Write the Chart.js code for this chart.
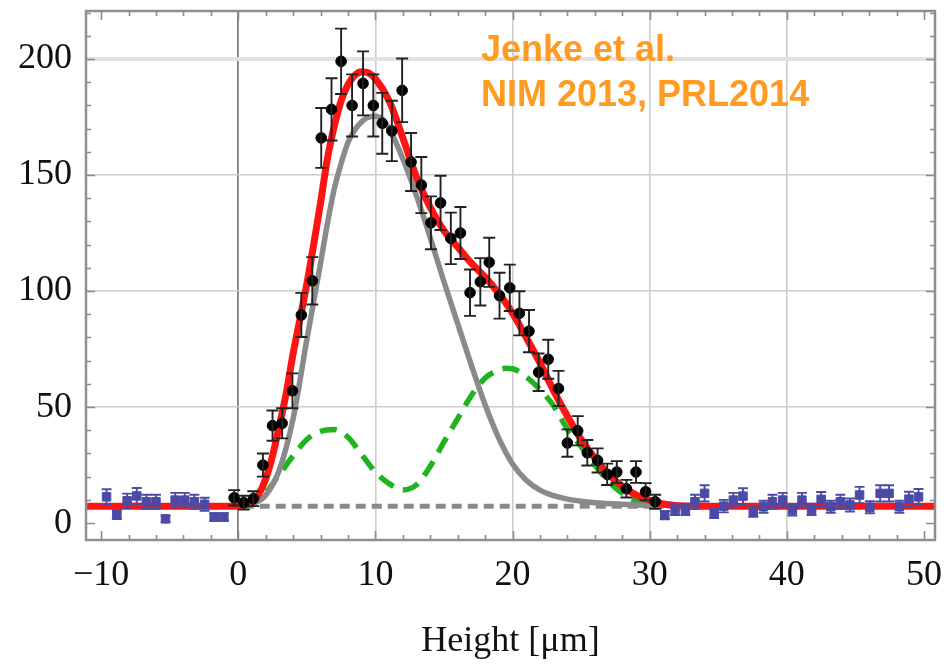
<!DOCTYPE html>
<html><head><meta charset="utf-8">
<script src="https://cdn.jsdelivr.net/npm/chart.js@4.4.1/dist/chart.umd.min.js"></script>
<style>html,body{margin:0;padding:0;background:#fff;}#wrap{width:952px;height:670px;}</style>
</head><body><div id="wrap"><canvas id="c" width="952" height="670"></canvas></div>
<script>
// ---- tick labels ----
const xTicks = [-10, 0, 10, 20, 30, 40, 50];
const yTicks = [0, 50, 100, 150, 200];
const xMinorStep = 2, yMinorStep = 10;

// ---- measured data (black) ----
const measX = [-0.3,0.4,1.1,1.8,2.5,3.2,3.95,4.6,5.4,6.05,6.8,7.5,8.3,9.1,9.85,10.5,11.2,11.95,12.6,13.35,14.05,14.75,15.5,16.2,16.9,17.65,18.3,19.05,19.8,20.5,21.2,21.9,22.6,23.35,24.0,24.75,25.45,26.2,26.9,27.6,28.3,29.0,29.7,30.4];
const measY = [10.9,8.8,10.5,25,42,43,57,89.7,104.4,166,178.3,199,180,189.5,180,172.3,169,186.5,155.6,145.7,129.4,138,122.7,125,99.3,104,112.4,98,101.4,90.4,82.7,65,70.6,58,34.5,39.8,30.3,27,21,22,14.8,22,13.5,9.2];
const measErr = [3.3,3,3.2,5,6.5,6.5,7.5,9.5,10.2,12.9,13.4,14.1,13.4,13.8,13.4,13.1,13,13.7,12.5,12.1,11.4,11.7,11.1,11.2,10,10.2,10.6,9.9,10,9.5,9.1,8.1,8.4,7.6,5.9,6.3,5.5,5.2,4.6,4.7,3.8,4.7,3.7,3];

// ---- background data (blue) ----
const bgX = [-9.6,-8.85,-8.1,-7.4,-6.7,-6.0,-5.3,-4.6,-3.9,-3.2,-2.45,-1.75,-1.05,
  31.1,31.85,32.6,33.3,34.0,34.7,35.4,36.1,36.8,37.55,38.3,38.95,39.7,40.4,41.1,41.8,42.5,43.2,43.9,44.6,45.3,46.05,46.8,47.45,48.2,48.9,49.6];
const bgY = [11.3,3.6,9.6,11.7,9.2,9.2,1.8,9.9,9.9,9.2,8.1,2.6,2.6,
  3.4,5.9,5.9,9.2,12.8,4.2,7.3,9.9,11.6,4.9,7.0,9.2,9.9,5.6,9.9,5.9,10.2,7.0,9.2,7.8,12.1,6.8,12.8,12.8,7.0,10.3,11.3];
const bgErr = [3.3,1.9,3.1,3.4,3,3,1.4,3.1,3.1,3,2.8,1.6,1.6,
  1.8,2.4,2.4,3,3.5,2,2.7,3.1,3.4,2.2,2.6,3,3.1,2.4,3.1,2.4,3.2,2.6,3,2.8,3.5,2.6,3.5,3.5,2.6,3.2,3.4];

// ---- total fit (red) ----
const redX = [-11.1,-1,0,0.5,1,1.5,2,2.5,3,3.5,4,4.5,5,5.5,6,6.5,7,7.5,8,8.5,9,9.5,10,11,12,13,14,15,16,17,18,19,20,21,22,23,24,25,26,27,28,29,30,31,32,33,50.8];
const redY = [7.3,7.3,7.4,7.8,9,12.5,19,29,42,56,73,88,103,120,138,157,171,182,189,193,194.5,194,191.5,182,166,149,136,126,119,112,106,99,90.5,80,69,57,46,36,28,21,15.8,12.2,9.8,8.2,7.5,7.3,7.3];

// ---- main component (grey) ----
const greyX = [0,1,2,3,4,5,6,6.5,7,7.5,8,8.5,9,9.5,10,10.5,11,12,13,14,15,16,17,18,19,20,21,22,23,24,25,26,28,30,31];
const greyY = [7.3,8.2,12,23,45,79,112,129,144,155,164,169.5,173,175,175.3,174,170,157,141,123,104,86,68,51,36.5,25.5,18.5,14.2,11.8,10.3,9.4,8.8,8.1,7.6,7.4];

// ---- second component (green dashed) ----
const greenX = [0.5,1,2,3,4,5,6,7,8,9,10,11,12,13,14,15,16,17,18,19,19.5,20,21,22,23,24,25,26,27,28,29,30,31];
const greenY = [7.3,8,13,21,29,36,39.5,40.3,37,29.5,22,17,14.3,16.5,24.5,35,45,55,62.5,66,66.7,66.5,63,57.5,50.5,40.5,33,25,18,12.8,9.5,7.8,7.3];

// ---- baseline (grey dotted) ----
const baseX = [0.4, 31];
const baseY = [7.3, 7.3];

const pts = (xs, ys) => xs.map((x, i) => ({x, y: ys[i]}));

const errorBars = {
  id: 'errorBars',
  afterDatasetsDraw(chart) {
    const {ctx, scales: {x, y}} = chart;
    const draw = (xs, ys, es, color, cap) => {
      ctx.save();
      ctx.strokeStyle = color; ctx.lineWidth = 1.9;
      xs.forEach((v, i) => {
        const px = x.getPixelForValue(v);
        const t = y.getPixelForValue(ys[i] + es[i]);
        const b = y.getPixelForValue(ys[i] - es[i]);
        ctx.beginPath();
        ctx.moveTo(px, t); ctx.lineTo(px, b);
        ctx.moveTo(px - cap, t); ctx.lineTo(px + cap, t);
        ctx.moveTo(px - cap, b); ctx.lineTo(px + cap, b);
        ctx.stroke();
      });
      ctx.restore();
    };
    draw(bgX, bgY, bgErr, '#4b4ba6', 5);
    draw(measX, measY, measErr, '#222', 6);
  }
};

const frame = {
  id: 'frame',
  afterDraw(chart) {
    const {ctx, chartArea: a, scales: {x, y}} = chart;
    ctx.save();
    ctx.strokeStyle = '#8c8c8c';
    ctx.lineWidth = 1.6;
    ctx.beginPath();
    for (let v = xTicks[0]; v <= xTicks[xTicks.length - 1] + 1e-9; v += xMinorStep) {
      const px = Math.round(x.getPixelForValue(v)) + 0.5;
      const major = xTicks.includes(Math.round(v));
      const L = major ? 9 : 5;
      ctx.moveTo(px, a.bottom); ctx.lineTo(px, a.bottom - L);
      ctx.moveTo(px, a.top); ctx.lineTo(px, a.top + L);
    }
    for (let v = yTicks[0]; v <= 220 + 1e-9; v += yMinorStep) {
      const py = Math.round(y.getPixelForValue(v)) + 0.5;
      const major = yTicks.includes(Math.round(v));
      const L = major ? 9 : 5;
      ctx.moveTo(a.left, py); ctx.lineTo(a.left + L, py);
      ctx.moveTo(a.right, py); ctx.lineTo(a.right - L, py);
    }
    ctx.stroke();
    ctx.lineWidth = 2.5;
    ctx.strokeStyle = '#8f8f8f';
    ctx.strokeRect(a.left, a.top, a.right - a.left, a.bottom - a.top);
    // annotation
    ctx.fillStyle = '#ff9b21';
    ctx.font = 'bold 36px "Liberation Sans", Arial, sans-serif';
    ctx.textBaseline = 'alphabetic';
    ctx.textAlign = 'left';
    ctx.fillText('Jenke et al.', 481, 61);
    ctx.fillText('NIM 2013, PRL2014', 481, 106);
    ctx.restore();
  }
};

const serif = {family: '"Liberation Serif", "Times New Roman", serif', size: 36};

new Chart(document.getElementById('c'), {
  type: 'scatter',
  data: {
    datasets: [
      {label: 'measured', data: pts(measX, measY), backgroundColor: '#000', borderColor: '#000', pointRadius: 5.3, pointStyle: 'circle', showLine: false},
      {label: 'background', data: pts(bgX, bgY), backgroundColor: '#4b4ba6', borderColor: '#4b4ba6', pointRadius: 6, pointStyle: 'rect', showLine: false},
      {label: 'fit', data: pts(redX, redY), showLine: true, borderColor: '#ff1414', borderWidth: 7, pointRadius: 0, cubicInterpolationMode: 'monotone', fill: false},
      {label: 'main', data: pts(greyX, greyY), showLine: true, borderColor: '#8a8a8a', borderWidth: 5.5, pointRadius: 0, cubicInterpolationMode: 'monotone', fill: false},
      {label: 'second', data: pts(greenX, greenY), showLine: true, borderColor: '#1fb31f', borderWidth: 5.5, borderDash: [17, 10], pointRadius: 0, cubicInterpolationMode: 'monotone', fill: false},
      {label: 'base', data: pts(baseX, baseY), showLine: true, borderColor: '#8a8a8a', borderWidth: 5, borderDash: [10, 6], pointRadius: 0, fill: false}
    ]
  },
  options: {
    responsive: false,
    animation: false,
    devicePixelRatio: 1,
    layout: {padding: {top: 11, right: 17, left: 0, bottom: 0}},
    plugins: {legend: {display: false}, tooltip: {enabled: false}},
    scales: {
      x: {
        type: 'linear', min: -11.1, max: 50.8,
        afterBuildTicks: s => { s.ticks = xTicks.map(v => ({value: v})); },
        afterFit: s => { s.height = 130; s.paddingLeft = 0; s.paddingRight = 0; },
        ticks: {font: serif, color: '#111', padding: 14, maxRotation: 0, autoSkip: false,
          callback: v => (v < 0 ? '\u2212' + Math.abs(v) : String(v))},
        grid: {drawTicks: false,
          color: c => { const v = c.tick && c.tick.value; return v === 0 ? '#7d7d7d' : (v > 0 && v < 50 ? '#cdcdcd' : 'rgba(0,0,0,0)'); },
          lineWidth: c => (c.tick && c.tick.value === 0 ? 1.8 : 1.6)},
        border: {display: false},
        title: {display: true, text: 'Height [μm]', font: serif, color: '#111', padding: {top: 0, bottom: 7}}
      },
      y: {
        type: 'linear', min: -7.3, max: 220.7,
        afterBuildTicks: s => { s.ticks = yTicks.map(v => ({value: v})); },
        afterFit: s => { s.width = 86; s.paddingTop = 0; s.paddingBottom = 0; },
        ticks: {font: serif, color: '#111', padding: 14, autoSkip: false},
        grid: {drawTicks: false,
          color: c => { const v = c.tick && c.tick.value; return v === 200 ? '#e2e2e2' : (v > 0 ? '#cdcdcd' : 'rgba(0,0,0,0)'); },
          lineWidth: c => (c.tick && c.tick.value === 200 ? 4 : 1.6)},
        border: {display: false}
      }
    }
  },
  plugins: [errorBars, frame]
});
</script>
</body></html>
